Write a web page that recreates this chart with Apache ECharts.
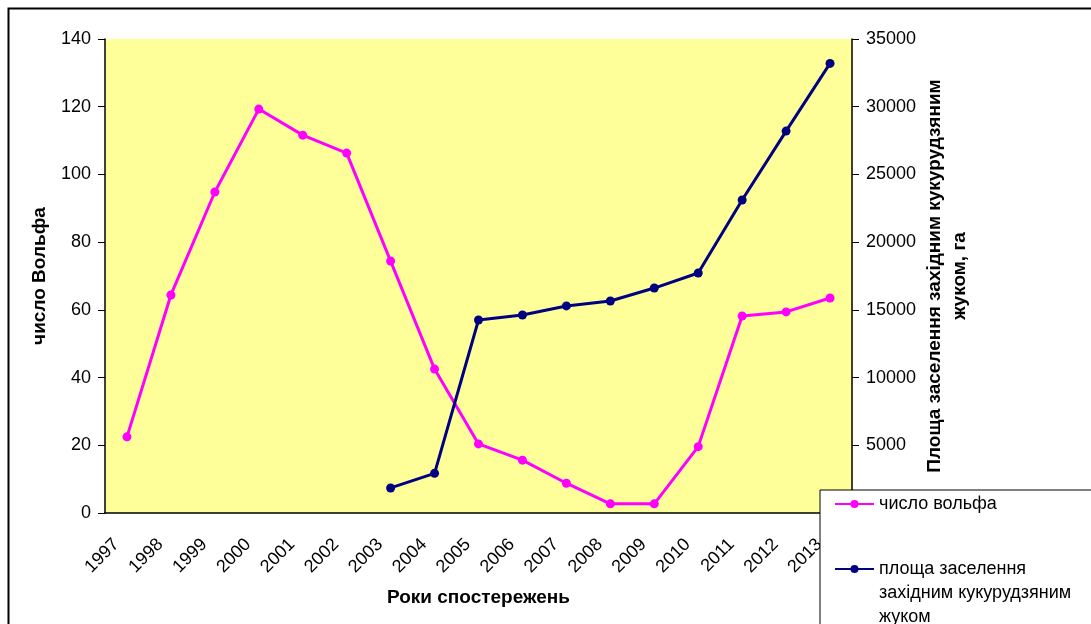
<!DOCTYPE html>
<html>
<head>
<meta charset="utf-8">
<script src="https://cdn.jsdelivr.net/npm/echarts@6/dist/echarts.min.js"></script>
<style>
  html, body { margin: 0; padding: 0; background: #fff; }
  #main { width: 1091px; height: 624px; }
</style>
</head>
<body>
<div id="main"></div>
<script>
// роки спостережень
var years = ['1997','1998','1999','2000','2001','2002','2003','2004','2005',
             '2006','2007','2008','2009','2010','2011','2012','2013'];
// число Вольфа
var wolfNumber = [22.5, 64.4, 94.8, 119.3, 111.6, 106.3, 74.4, 42.5, 20.4,
                  15.6, 8.8, 2.7, 2.7, 19.6, 58.2, 59.4, 63.5];
// площа заселення, га (до 2003 даних немає)
var beetleArea = [null, null, null, null, null, null, 1850, 2930, 14250,
                  14620, 15290, 15650, 16610, 17720, 23110, 28200, 33200];
var leftTicks = { min: 0, max: 140, interval: 20 };
var rightTicks = { min: 0, max: 35000, interval: 5000 };

var wolfName = 'число вольфа';
var beetleName = 'площа заселення\nзахідним кукурудзяним\nжуком';

var font = 'Liberation Sans, Arial, sans-serif';
var chart = echarts.init(document.getElementById('main'));

var option = {
  animation: false,
  textStyle: { fontFamily: font },
  grid: {
    left: 105, right: 239, top: 39, bottom: 111,
    show: true, backgroundColor: '#FFFF99', borderWidth: 0
  },
  graphic: [{
    type: 'rect', left: 6, top: 6, z: -10,
    shape: { width: 1200, height: 800 },
    style: { fill: 'none', stroke: '#000', lineWidth: 2 }
  }],
  legend: {
    orient: 'vertical',
    left: 820, top: 490, height: 400,
    padding: [2, 30, 40, 14],
    backgroundColor: '#fff',
    borderColor: '#000', borderWidth: 1,
    itemWidth: 39, itemHeight: 10, itemGap: -7,
    textStyle: { fontFamily: font, fontSize: 18, color: '#000', lineHeight: 24 },
    // перший рядок довгої назви — на рівні значка
    formatter: function (name) {
      return name === beetleName ? '\n\n' + name : name;
    },
    data: [wolfName, beetleName]
  },
  xAxis: {
    type: 'category',
    data: years,
    name: 'Роки спостережень',
    nameLocation: 'middle',
    nameGap: 75,
    nameMoveOverlap: false,
    nameTextStyle: { fontSize: 19, fontWeight: 'bold', color: '#000' },
    axisLine: { lineStyle: { color: '#000', width: 1.5 } },
    axisTick: { length: 7, lineStyle: { color: '#000' } },
    axisLabel: {
      rotate: 45, margin: 18, fontSize: 18, color: '#000',
      padding: [0, 15, 0, 0], interval: 0
    },
    splitLine: { show: false }
  },
  yAxis: [{
    type: 'value',
    min: leftTicks.min, max: leftTicks.max, interval: leftTicks.interval,
    name: 'число Вольфа',
    nameLocation: 'middle',
    nameRotate: 90,
    nameGap: 56,
    nameMoveOverlap: false,
    nameTextStyle: { fontSize: 19, fontWeight: 'bold', color: '#000' },
    axisLine: { show: true, lineStyle: { color: '#000', width: 1.5 } },
    axisTick: { show: true, length: 7, lineStyle: { color: '#000' } },
    axisLabel: { margin: 14, fontSize: 18, color: '#000' },
    splitLine: { show: false }
  }, {
    type: 'value',
    position: 'right',
    min: rightTicks.min, max: rightTicks.max, interval: rightTicks.interval,
    name: 'Площа заселення західним кукурудзяним\nжуком, га',
    nameLocation: 'middle',
    nameRotate: 90,
    nameGap: 70,
    nameMoveOverlap: false,
    nameTextStyle: { fontSize: 19, fontWeight: 'bold', color: '#000', lineHeight: 25 },
    axisLine: { show: true, lineStyle: { color: '#000', width: 1.5 } },
    axisTick: { show: true, length: 7, lineStyle: { color: '#000' } },
    axisLabel: {
      margin: 14, fontSize: 18, color: '#000',
      formatter: function (v) { return String(v); }
    },
    splitLine: { show: false }
  }],
  series: [{
    name: wolfName,
    type: 'line',
    yAxisIndex: 0,
    data: wolfNumber,
    symbol: 'circle', symbolSize: 9,
    color: '#FF00FF',
    lineStyle: { width: 3, color: '#FF00FF' },
    itemStyle: { color: '#FF00FF' }
  }, {
    name: beetleName,
    type: 'line',
    yAxisIndex: 1,
    data: beetleArea,
    symbol: 'circle', symbolSize: 9,
    color: '#000080',
    lineStyle: { width: 3, color: '#000080' },
    itemStyle: { color: '#000080' }
  }]
};

chart.setOption(option);
</script>
</body>
</html>
